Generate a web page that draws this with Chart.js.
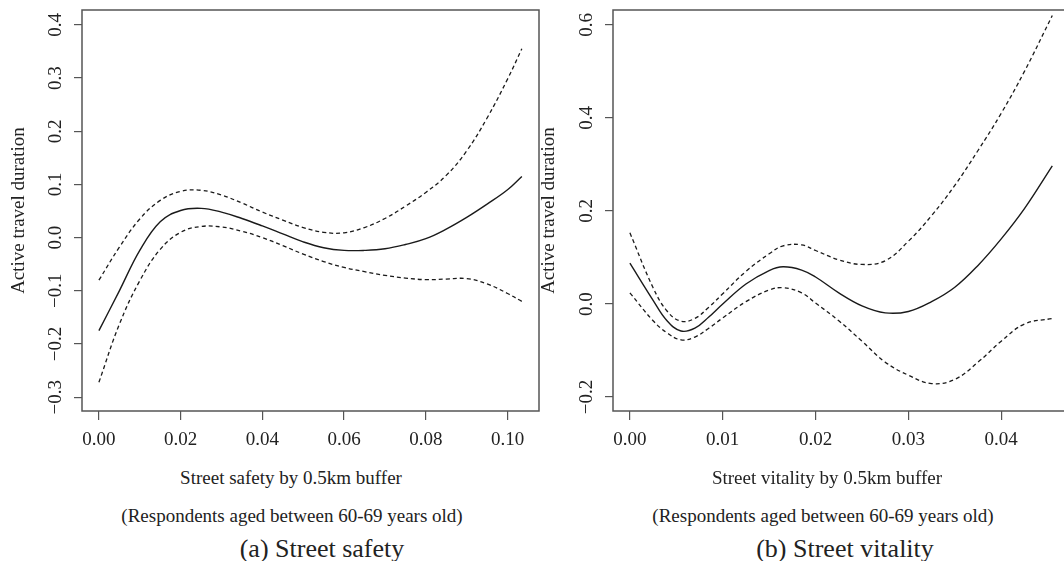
<!DOCTYPE html>
<html>
<head>
<meta charset="utf-8">
<script src="https://cdn.jsdelivr.net/npm/chart.js@4.4.1/dist/chart.umd.min.js"></script>
<style>
  html, body { margin: 0; padding: 0; background: #fff; overflow: hidden; width: 1064px; height: 561px; }
  #wrap { position: relative; width: 1064px; height: 561px; overflow: hidden; }
  .box { position: absolute; top: 0; width: 545px; height: 461px; }
  .lbl { position: absolute; font-family: "Liberation Serif", "Times New Roman", serif; color: #222;
         white-space: nowrap; transform: translate(-50%, -50%); line-height: 1; }
</style>
</head>
<body>
<div id="wrap">
  <div class="box" style="left:0"><canvas id="safety"></canvas></div>
  <div class="box" style="left:530px"><canvas id="vitality"></canvas></div>
  <div class="lbl" style="left:291px; top:477px; font-size:19px">Street safety by 0.5km buffer</div>
  <div class="lbl" style="left:292px; top:515px; font-size:19px">(Respondents aged between 60-69 years old)</div>
  <div class="lbl" style="left:322px; top:549px; font-size:26px">(a) Street safety</div>
  <div class="lbl" style="left:827px; top:477px; font-size:19px">Street vitality by 0.5km buffer</div>
  <div class="lbl" style="left:823px; top:515px; font-size:19px">(Respondents aged between 60-69 years old)</div>
  <div class="lbl" style="left:845px; top:549px; font-size:26px">(b) Street vitality</div>
</div>
<script>
// (a) street safety
const safetyX = [0, 0.005, 0.01, 0.015, 0.02, 0.025, 0.03, 0.035, 0.04, 0.045, 0.05, 0.055,
                 0.06, 0.065, 0.07, 0.075, 0.08, 0.085, 0.09, 0.095, 0.1, 0.1035];
const safetyFit = [-0.175, -0.100, -0.024, 0.030, 0.051, 0.055, 0.048, 0.036, 0.022, 0.007, -0.008, -0.019,
                   -0.024, -0.024, -0.021, -0.013, -0.002, 0.016, 0.038, 0.063, 0.090, 0.115];
const safetyUpper = [-0.080, -0.018, 0.035, 0.070, 0.087, 0.089, 0.080, 0.065, 0.048, 0.033, 0.019, 0.010,
                     0.009, 0.019, 0.036, 0.059, 0.085, 0.117, 0.163, 0.225, 0.298, 0.355];
const safetyLower = [-0.272, -0.163, -0.081, -0.022, 0.010, 0.021, 0.020, 0.012, 0.000, -0.015, -0.031, -0.045,
                     -0.056, -0.064, -0.071, -0.076, -0.079, -0.078, -0.077, -0.087, -0.105, -0.120];
const safetyXTicks = [0, 0.02, 0.04, 0.06, 0.08, 0.10];
const safetyXLabels = ['0.00', '0.02', '0.04', '0.06', '0.08', '0.10'];
const safetyYTicks = [-0.3, -0.2, -0.1, 0, 0.1, 0.2, 0.3, 0.4];
const safetyYLabels = ['\u22120.3', '\u22120.2', '\u22120.1', '0.0', '0.1', '0.2', '0.3', '0.4'];

// (b) street vitality
const vitalityX = [0, 0.0025, 0.004, 0.0055, 0.007, 0.0085, 0.01, 0.0125, 0.015, 0.0165, 0.0185, 0.02, 0.0225, 0.025,
                   0.0275, 0.03, 0.0325, 0.035, 0.0375, 0.04, 0.0425, 0.0455];
const vitalityFit = [0.088, 0.008, -0.036, -0.058, -0.052, -0.028, 0.000, 0.043, 0.072, 0.080, 0.073, 0.058, 0.024, -0.004,
                     -0.019, -0.016, 0.005, 0.036, 0.083, 0.140, 0.205, 0.297];
const vitalityUpper = [0.153, 0.035, -0.015, -0.037, -0.031, -0.007, 0.022, 0.070, 0.108, 0.125, 0.127, 0.115, 0.095, 0.085,
                       0.093, 0.135, 0.190, 0.255, 0.330, 0.410, 0.500, 0.620];
const vitalityLower = [0.024, -0.036, -0.062, -0.077, -0.071, -0.052, -0.030, 0.005, 0.030, 0.035, 0.024, 0.002, -0.036, -0.080,
                       -0.125, -0.153, -0.171, -0.162, -0.125, -0.080, -0.043, -0.031];
const vitalityXTicks = [0, 0.01, 0.02, 0.03, 0.04];
const vitalityXLabels = ['0.00', '0.01', '0.02', '0.03', '0.04'];
const vitalityYTicks = [-0.2, 0, 0.2, 0.4, 0.6];
const vitalityYLabels = ['\u22120.2', '0.0', '0.2', '0.4', '0.6'];

const serif = '"Liberation Serif", "Times New Roman", serif';

// box round the plot + y labels turned like R draws them
const framePlugin = {
	id: 'frame',
	afterDraw(chart) {
		const {ctx, chartArea: a} = chart;
		const y = chart.scales.y;
		const labels = chart.options.plugins.frame.labels;
		ctx.save();
		ctx.strokeStyle = '#555';
		ctx.lineWidth = 1.5;
		ctx.strokeRect(a.left, a.top, a.right - a.left, a.bottom - a.top);
		ctx.fillStyle = '#222';
		ctx.font = '19px ' + serif;
		ctx.textAlign = 'center';
		ctx.textBaseline = 'middle';
		y.ticks.forEach((t, i) => {
			ctx.save();
			ctx.translate(a.left - 26, y.getPixelForValue(t.value));
			ctx.rotate(-Math.PI / 2);
			ctx.fillText(labels[i], 0, 0);
			ctx.restore();
		});
		ctx.restore();
	}
};

function pts(xs, ys) {
	return xs.map((x, i) => ({x: x, y: ys[i]}));
}

function renderPanel(canvas, cfg) {
	const line = (ys, dashed) => ({
		data: pts(cfg.x, ys),
		borderColor: '#1a1a1a',
		borderWidth: dashed ? 1.3 : 1.4,
		borderDash: dashed ? [4, 3] : [],
		pointRadius: 0,
		tension: 0.4,
		fill: false
	});

	new Chart(canvas, {
		type: 'line',
		data: {
			datasets: [line(cfg.fit, false), line(cfg.upper, true), line(cfg.lower, true)]
		},
		options: {
			animation: false,
			responsive: true,
			maintainAspectRatio: false,
			layout: {padding: {top: 10, right: 6, left: 0, bottom: 0}},
			plugins: {
				legend: {display: false},
				tooltip: {enabled: false},
				frame: {labels: cfg.yLabels}
			},
			scales: {
				x: {
					type: 'linear',
					min: cfg.xMin,
					max: cfg.xMax,
					afterBuildTicks: s => { s.ticks = cfg.xTicks.map(v => ({value: v})); },
					afterFit: s => { s.height = 50; },
					border: {display: false},
					grid: {drawOnChartArea: false, drawTicks: true, tickLength: 9, color: '#555', lineWidth: 1.2},
					ticks: {
						autoSkip: false,
						maxRotation: 0,
						padding: 9,
						color: '#222',
						font: {family: serif, size: 19},
						callback: (v, i) => cfg.xLabels[i]
					}
				},
				y: {
					min: cfg.yMin,
					max: cfg.yMax,
					afterBuildTicks: s => { s.ticks = cfg.yTicks.map(v => ({value: v})); },
					afterFit: s => { s.width = cfg.yWidth; },
					border: {display: false},
					grid: {drawOnChartArea: false, drawTicks: true, tickLength: 8, color: '#555', lineWidth: 1.2},
					ticks: {display: false},
					title: {
						display: true,
						text: 'Active travel duration',
						color: '#222',
						font: {family: serif, size: 19},
						padding: {top: 8, bottom: 0}
					}
				}
			}
		},
		plugins: [framePlugin]
	});
}

renderPanel(document.getElementById('safety'), {
	x: safetyX, fit: safetyFit, upper: safetyUpper, lower: safetyLower,
	xMin: -0.00414, xMax: 0.1077, yMin: -0.326, yMax: 0.428,
	xTicks: safetyXTicks, xLabels: safetyXLabels, yTicks: safetyYTicks, yLabels: safetyYLabels,
	yWidth: 82
});

renderPanel(document.getElementById('vitality'), {
	x: vitalityX, fit: vitalityFit, upper: vitalityUpper, lower: vitalityLower,
	xMin: -0.00182, xMax: 0.0473, yMin: -0.230, yMax: 0.632,
	xTicks: vitalityXTicks, xLabels: vitalityXLabels, yTicks: vitalityYTicks, yLabels: vitalityYLabels,
	yWidth: 83
});
</script>
</body>
</html>
